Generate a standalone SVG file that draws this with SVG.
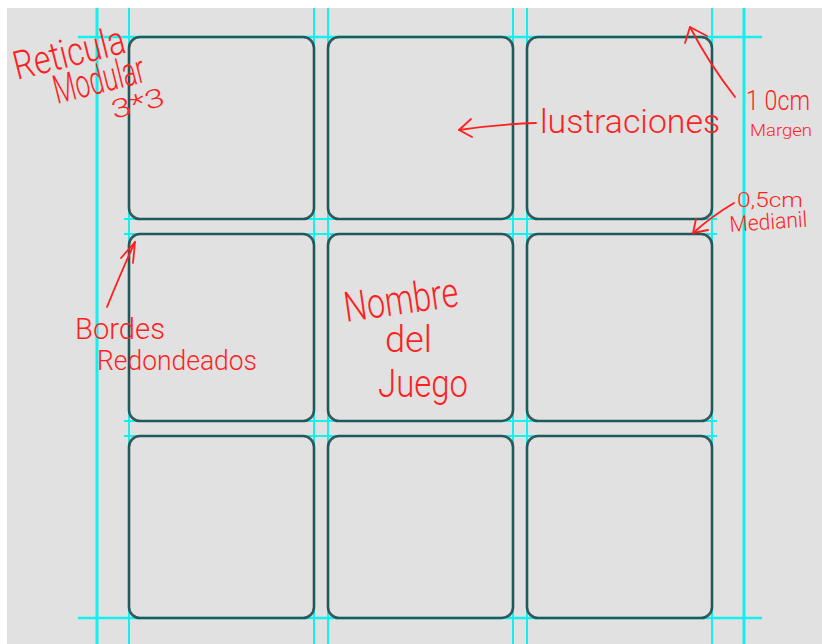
<svg xmlns="http://www.w3.org/2000/svg" width="822" height="644" viewBox="0 0 822 644">
<style>
.guide{stroke:#14f0f0;fill:none}
.box{fill:none;stroke:#1f3f42;stroke-width:2.6;stroke-opacity:0.85}
.hw{font-family:"Roboto","Liberation Sans",sans-serif;font-weight:300;fill:#ff1f1f}
.ann{fill:none;stroke:#ff1f1f;stroke-width:1.8;stroke-linecap:round;stroke-linejoin:round}
</style>
<rect x="0" y="0" width="822" height="644" fill="#ffffff"/>
<rect x="7" y="8" width="815" height="636" fill="#e1e1e1"/>
<g id="guides">
<line class="guide" x1="97" y1="8" x2="97" y2="644" stroke-width="3"/>
<line class="guide" x1="744" y1="8" x2="744" y2="644" stroke-width="3"/>
<line class="guide" x1="129" y1="8" x2="129" y2="644" stroke-width="2"/>
<line class="guide" x1="314" y1="8" x2="314" y2="644" stroke-width="2"/>
<line class="guide" x1="328" y1="8" x2="328" y2="644" stroke-width="2"/>
<line class="guide" x1="513" y1="8" x2="513" y2="644" stroke-width="2"/>
<line class="guide" x1="527" y1="8" x2="527" y2="644" stroke-width="2"/>
<line class="guide" x1="712" y1="8" x2="712" y2="644" stroke-width="2"/>
<line class="guide" x1="78" y1="37" x2="762" y2="37" stroke-width="2.5"/>
<line class="guide" x1="78" y1="618" x2="762" y2="618" stroke-width="2.5"/>
<line class="guide" x1="124" y1="219" x2="717" y2="219" stroke-width="2"/>
<line class="guide" x1="124" y1="234" x2="717" y2="234" stroke-width="2"/>
<line class="guide" x1="124" y1="421" x2="717" y2="421" stroke-width="2"/>
<line class="guide" x1="124" y1="436" x2="717" y2="436" stroke-width="2"/>
</g>
<g id="cell-1-1"><rect class="box" x="129" y="37" width="185" height="182" rx="11"/></g>
<g id="cell-1-2"><rect class="box" x="328" y="37" width="185" height="182" rx="11"/></g>
<g id="cell-1-3"><rect class="box" x="527" y="37" width="185" height="182" rx="11"/></g>
<g id="cell-2-1"><rect class="box" x="129" y="234" width="185" height="187" rx="11"/></g>
<g id="cell-2-2"><rect class="box" x="328" y="234" width="185" height="187" rx="11"/></g>
<g id="cell-2-3"><rect class="box" x="527" y="234" width="185" height="187" rx="11"/></g>
<g id="cell-3-1"><rect class="box" x="129" y="436" width="185" height="182" rx="11"/></g>
<g id="cell-3-2"><rect class="box" x="328" y="436" width="185" height="182" rx="11"/></g>
<g id="cell-3-3"><rect class="box" x="527" y="436" width="185" height="182" rx="11"/></g>
<g id="connectors">
<path class="ann" d="M536 123 Q500 124 459 130"/>
<path class="ann" d="M471 119 L459 130 L472 137"/>
<path class="ann" d="M735 97 Q708 62 690 27"/>
<path class="ann" d="M685 43 L690 27 L707 36"/>
<path class="ann" d="M734 203 Q712 216 693 233"/>
<path class="ann" d="M696 219 L693 233 L708 230"/>
<path class="ann" d="M107 307 Q122 270 135 242"/>
<path class="ann" d="M121 258 L135 242 L133 263"/>
</g>
<g id="labels">
<text class="hw" x="17" y="80" font-size="40" textLength="114" lengthAdjust="spacingAndGlyphs" transform="rotate(-14 17 80)">Reticula</text>
<text class="hw" x="57" y="104" font-size="40" textLength="93" lengthAdjust="spacingAndGlyphs" transform="rotate(-14 57 104)">Modular</text>
<text class="hw" x="114" y="119" font-size="26" textLength="54" lengthAdjust="spacingAndGlyphs" transform="rotate(-15 114 119)">3*3</text>
<text class="hw" x="540" y="133" font-size="34" textLength="180" lengthAdjust="spacingAndGlyphs">lustraciones</text>
<text class="hw" x="746" y="110" font-size="28" textLength="64" lengthAdjust="spacingAndGlyphs">1 0cm</text>
<text class="hw" x="750" y="136" font-size="16" textLength="62" lengthAdjust="spacingAndGlyphs">Margen</text>
<text class="hw" x="737" y="207" font-size="20" textLength="66" lengthAdjust="spacingAndGlyphs">0,5cm</text>
<text class="hw" x="730" y="232" font-size="22" textLength="78" lengthAdjust="spacingAndGlyphs" transform="rotate(-4 730 232)">Medianil</text>
<text class="hw" x="75" y="339" font-size="30" textLength="90" lengthAdjust="spacingAndGlyphs">Bordes</text>
<text class="hw" x="97" y="370" font-size="28" textLength="160" lengthAdjust="spacingAndGlyphs">Redondeados</text>
<text class="hw" x="346" y="322" font-size="42" textLength="115" lengthAdjust="spacingAndGlyphs" transform="rotate(-8 346 322)">Nombre</text>
<text class="hw" x="385" y="352" font-size="36" textLength="47" lengthAdjust="spacingAndGlyphs">del</text>
<text class="hw" x="378" y="397" font-size="38" textLength="90" lengthAdjust="spacingAndGlyphs">Juego</text>
</g>
</svg>
